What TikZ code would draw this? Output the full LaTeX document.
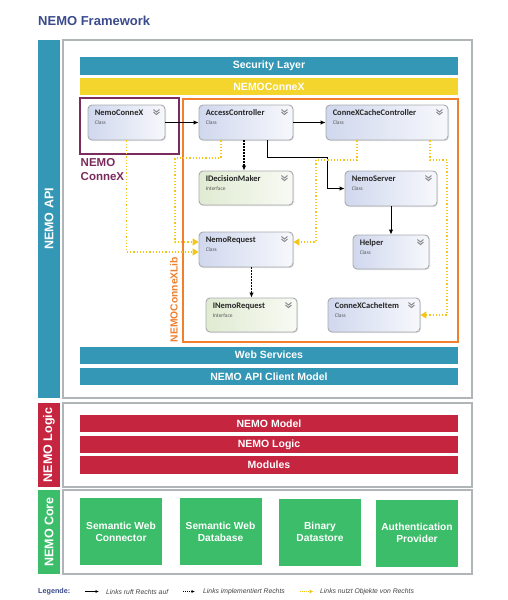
\documentclass[tikz,border=0pt]{standalone}
\usepackage{fontspec}
\setmainfont{Liberation Sans}
\newfontfamily\clsfont{Carlito}
\usetikzlibrary{shadows,arrows.meta}
\definecolor{cTeal}{HTML}{3397B5}
\definecolor{cYellow}{HTML}{F3D52E}
\definecolor{cPurple}{HTML}{7B2B5C}
\definecolor{cOrange}{HTML}{F07F2E}
\definecolor{cRed}{HTML}{C6253F}
\definecolor{cGreen}{HTML}{3BBD6A}
\definecolor{cFrame}{HTML}{B0B5B8}
\definecolor{cTitle}{HTML}{3A4A8C}
\definecolor{cDot}{HTML}{F5C518}
\definecolor{cClsL}{HTML}{D0D8EE}
\definecolor{cClsR}{HTML}{F7F8FC}
\definecolor{cIfL}{HTML}{E0EBD2}
\definecolor{cIfR}{HTML}{F8FAF4}
\definecolor{cBorder}{HTML}{A8AAAD}
\definecolor{cChev}{HTML}{8A8C90}
\newcommand\clsbox[8]{%
  \node[#6, minimum width=#4pt, minimum height=#5pt] (#1) at (#2,#3) {};
  \node[clstitle, anchor=base west] (#1-t) at ([xshift=7pt,yshift=-11pt]#1.north west) {#7};
  \node[clskind, anchor=base west] (#1-k) at ([xshift=7pt,yshift=-20pt]#1.north west) {#8};
  \draw[chev] ([xshift=-12pt,yshift=-5pt]#1.north east) -- ++(3,2.5) -- ++(3,-2.5);
  \draw[chev] ([xshift=-12pt,yshift=-7.5pt]#1.north east) -- ++(3,2.5) -- ++(3,-2.5);
}
\begin{document}
\begin{tikzpicture}[x=1pt,y=-1pt,
  frame/.style={draw=cFrame, line width=1.8pt, fill=white, inner sep=0, outer sep=0},
  sidebar/.style={fill=#1, inner sep=0, outer sep=0, minimum width=22pt, text=white,
     font=\bfseries\fontsize{12.5}{14}\selectfont, rotate=90},
  bar/.style={fill=#1, inner sep=0, minimum width=378pt, minimum height=17pt, text=white,
     font=\bfseries\fontsize{10.5}{12}\selectfont},
  corebox/.style={fill=cGreen, inner sep=0, minimum width=82pt, minimum height=67pt, text=white,
     align=center, font=\bfseries\fontsize{10.2}{12}\selectfont},
  cls/.style={rounded corners=4pt, draw=cBorder, line width=0.9pt, left color=cClsL, right color=cClsR,
     inner sep=0, drop shadow={opacity=0.22, shadow xshift=1pt, shadow yshift=-1pt}},
  ifc/.style={cls, left color=cIfL, right color=cIfR},
  clstitle/.style={inner sep=0, font=\clsfont\bfseries\fontsize{8.5}{10}\selectfont, text=black!85},
  clskind/.style={inner sep=0, font=\clsfont\fontsize{5.5}{6}\selectfont, text=black!65},
  chev/.style={draw=cChev, line width=1pt},
  callarr/.style={draw=black, line width=1pt, -{Latex[length=5pt,width=4.5pt]}},
  implarr/.style={draw=black, line width=1.2pt, dash pattern=on 1.5pt off 1.5pt, -{Latex[length=5pt,width=4.5pt]}},
  usearr/.style={draw=cDot, line width=1.2pt, dash pattern=on 1.2pt off 2pt, -{Triangle[length=6pt,width=7pt]}},
  legtext/.style={font=\itshape\fontsize{6.8}{8}\selectfont, text=black!75, anchor=west, inner sep=0}
]
\useasboundingbox (0,0) rectangle (507,600);
\node[anchor=base west, inner sep=0, text=cTitle, font=\bfseries\fontsize{13}{15}\selectfont] (title) at (38,25.5) {NEMO Framework};

% frames
\node[frame, minimum width=409pt, minimum height=358pt] (apiframe) at (267.5,219) {};
\node[frame, minimum width=409pt, minimum height=84pt] (logicframe) at (267.5,445) {};
\node[frame, minimum width=409pt, minimum height=84pt] (coreframe) at (267.5,532) {};
\node[sidebar=cTeal, minimum height=0pt, minimum width=358pt, minimum height=22pt] (apiside) at (49,219) {NEMO API};
\node[sidebar=cRed, minimum width=84pt, minimum height=22pt] (logicside) at (49,445) {NEMO Logic};
\node[sidebar=cGreen, minimum width=84pt, minimum height=22pt] (coreside) at (49,532) {NEMO Core};

% API bars
\node[bar=cTeal, minimum height=18pt] (sec) at (269,66) {Security Layer};
\node[bar=cYellow] (ncxbar) at (269,86.5) {NEMOConneX};
\node[bar=cTeal] (ws) at (269,355) {Web Services};
\node[bar=cTeal] (client) at (269,376.5) {NEMO API Client Model};

% containers
\node[draw=cPurple, line width=2pt, inner sep=0, minimum width=99pt, minimum height=56pt] (ncxbox) at (129.5,126) {};
\node[anchor=north west, inner sep=0, align=left, text=cPurple, font=\bfseries\fontsize{11.5}{14}\selectfont] (ncxlabel) at (80.5,158.5) {NEMO\\ConneX};
\node[draw=cOrange, line width=2pt, inner sep=0, minimum width=275pt, minimum height=243pt] (libbox) at (320.5,220.5) {};
\node[rotate=90, inner sep=0, text=cOrange, font=\bfseries\fontsize{10.3}{12}\selectfont] (liblabel) at (174,299.5) {NEMOConneXLib};

% classes
\clsbox{nc}{126.5}{122.5}{77}{35}{cls}{NemoConneX}{Class}
\clsbox{ac}{246}{122.5}{94}{35}{cls}{AccessController}{Class}
\clsbox{ccc}{387}{122.5}{122}{35}{cls}{ConneXCacheController}{Class}
\clsbox{idm}{246}{188}{94}{34}{ifc}{IDecisionMaker}{Interface}
\clsbox{ns}{391}{188.5}{92}{35}{cls}{NemoServer}{Class}
\clsbox{nr}{246}{249.5}{94}{35}{cls}{NemoRequest}{Class}
\clsbox{hl}{391}{252}{76}{34}{cls}{Helper}{Class}
\clsbox{inr}{251.5}{315}{91}{34}{ifc}{INemoRequest}{Interface}
\clsbox{cci}{374}{315}{92}{34}{cls}{ConneXCacheItem}{Class}

% calls
\draw[callarr] (nc.east) -- (ac.west);
\draw[callarr] (ac.east) -- (ccc.west);
\draw[callarr] ([xshift=21pt]ac.south) |- (327,157) |- (ns.west);
\draw[callarr] (ns.south) -- (hl.north);
% implements
\draw[implarr] ([xshift=-2pt]ac.south) -- ([xshift=-2pt]idm.north);
\draw[implarr] ([xshift=5.5pt]nr.south) -- (inr.north);
% uses
\draw[usearr] (nc.south) |- ([yshift=-2.5pt]nr.west);
\draw[usearr] ([xshift=-25pt]ac.south) |- (175,158) |- ([yshift=7.5pt]nr.west);
\draw[usearr] ([xshift=-30pt]ccc.south) |- (316,160) |- ([yshift=7.5pt]nr.east);
\draw[usearr] ([xshift=43pt]ccc.south) |- (447,160) |- (cci.east);

% logic bars
\node[bar=cRed] (model) at (269,423.5) {NEMO Model};
\node[bar=cRed] (logic) at (269,444.5) {NEMO Logic};
\node[bar=cRed, minimum height=18pt] (modules) at (269,465) {Modules};

% core boxes
\node[corebox] (swc) at (121,531.5) {Semantic Web\\Connector};
\node[corebox] (swd) at (220.5,531.5) {Semantic Web\\Database};
\node[corebox] (bds) at (320,532) {Binary\\Datastore};
\node[corebox] (auth) at (417,533) {Authentication\\Provider};

% legend
\node[anchor=west, inner sep=0, text=cTitle, font=\bfseries\fontsize{7.2}{8}\selectfont] (leg) at (38,592) {Legende:};
\coordinate (l1a) at (85,591.5); \coordinate (l1b) at (99,591.5);
\draw[draw=black, line width=0.8pt, -{Latex[length=3.5pt,width=3pt]}] (l1a) -- (l1b);
\node[legtext] (lt1) at (106,592) {Links ruft Rechts auf};
\coordinate (l2a) at (183,591.5); \coordinate (l2b) at (195,591.5);
\draw[draw=black, line width=0.8pt, dash pattern=on 1pt off 1pt, -{Latex[length=3.5pt,width=3pt]}] (l2a) -- (l2b);
\node[legtext] (lt2) at (203,592) {Links implementiert Rechts};
\coordinate (l3a) at (300,591.5); \coordinate (l3b) at (313,591.5);
\draw[draw=cDot, line width=0.8pt, dash pattern=on 0.8pt off 1.2pt, -{Triangle[length=3.5pt,width=3.5pt]}] (l3a) -- (l3b);
\node[legtext] (lt3) at (320,592) {Links nutzt Objekte von Rechts};
\end{tikzpicture}
\end{document}
